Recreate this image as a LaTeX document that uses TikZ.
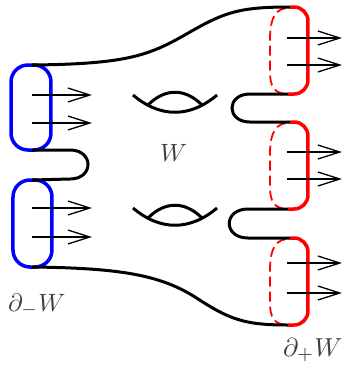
\documentclass[tikz,border=0pt]{standalone}
\usepackage{graphicx}
\usetikzlibrary{arrows.meta}
\begin{document}
\begin{tikzpicture}[x=1pt,y=-1pt,
  edge/.style={line width=3pt,black},
  lbound/.style={line width=3.5pt,blue,rounded corners=17pt},
  rsolid/.style={line width=3.5pt,red,rounded corners=14pt},
  rdash/.style={line width=1.8pt,red,dash pattern=on 10pt off 5pt},
  vec/.style={line width=1.3pt,black,-{Straight Barb[length=22pt,width=14pt,line width=1.3pt]}},
  lab/.style={inner sep=0pt,text=black!75}]
\useasboundingbox (0,0) rectangle (344,368);
% coordinates
\coordinate (L1t) at (32,65);  \coordinate (L1b) at (32,150);
\coordinate (L2t) at (32,180); \coordinate (L2b) at (32,267);
\coordinate (R1t) at (290,7);  \coordinate (R1b) at (288,94);
\coordinate (R2t) at (290,122);\coordinate (R2b) at (288,209);
\coordinate (R3t) at (290,238);\coordinate (R3b) at (288,325);
% left boundary (blue)
\draw[lbound] (11,65) rectangle (51,150);
\draw[lbound] (13,180) rectangle (52,267);
% right boundary (red)
\foreach \t/\b in {7/94,122/209,238/325}{
  \draw[rsolid] (290,\t) -- (308,\t) -- (308,\b) -- (288,\b);
  \draw[rdash] (286,\t+1) .. controls (272,\t+3) and (270,\t+18) .. (270,\t+33)
      -- (270,\b-22) .. controls (270,\b-8) and (274,\b-1) .. (286,\b);
}
% black edges
\draw[edge] (L1t) .. controls (130,64) and (150,55) .. (190,32)
   .. controls (225,12) and (240,7) .. (R1t);
\draw[edge] (L2b) .. controls (120,268) and (160,275) .. (195,297)
   .. controls (230,320) and (245,325) .. (R3b);
\draw[edge] (L1b) -- (70,150) .. controls (94,150) and (94,179) .. (70,179) -- (L2t);
\draw[edge] (R1b) -- (250,94) .. controls (226,94) and (226,122) .. (250,122) -- (R2t);
\draw[edge] (R2b) -- (248,209) .. controls (223,209) and (223,238) .. (248,238) -- (R3t);
% handles
\draw[edge] (133,95) .. controls (160,118) and (190,118) .. (217,95);
\draw[edge] (148,105) .. controls (165,88) and (185,88) .. (202,105);
\draw[edge] (133,208) .. controls (160,231) and (190,231) .. (217,208);
\draw[edge] (148,218) .. controls (165,201) and (185,201) .. (202,218);
% vectors
\foreach \y in {95,123,208,237}{ \draw[vec] (32,\y) -- (92,\y); }
\foreach \y in {38,65,152,179,263,293}{ \draw[vec] (287,\y) -- (342,\y); }
% labels
\node[lab,anchor=base west] (w) at (160,161) {\scalebox{2.5}{$W$}};
\node[lab,anchor=base west] (wm) at (8,311) {\scalebox{2.5}{$\partial_-W$}};
\node[lab,anchor=base west] (wp) at (283,356) {\scalebox{2.6}{$\partial_+W$}};
\end{tikzpicture}
\end{document}
